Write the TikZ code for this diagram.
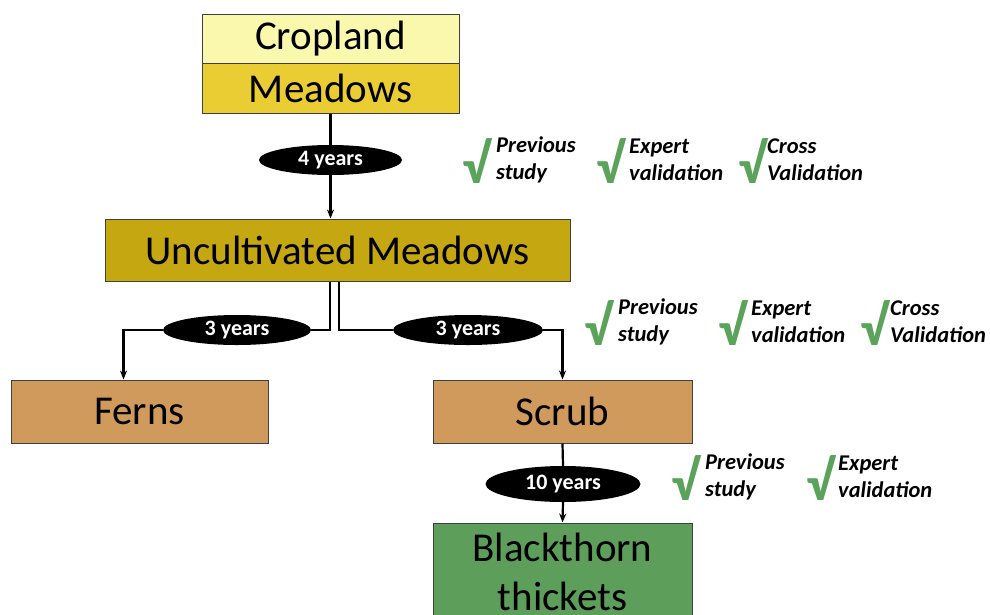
\documentclass[tikz,border=0pt]{standalone}
\usepackage{fontspec}
\setmainfont{Carlito}
\usepackage{tikz}
\usetikzlibrary{calc, arrows.meta, shapes.geometric}
\usepackage{xcolor}
\definecolor{croplandcol}{HTML}{F9F8AC}
\definecolor{meadowcol}{HTML}{EACD33}
\definecolor{uncultcol}{HTML}{C5A712}
\definecolor{shrubcol}{HTML}{CF9A5B}
\definecolor{thorncol}{HTML}{5C9E5A}
\definecolor{tickcol}{HTML}{5BA35A}
\tikzstyle{stage} = [rectangle, draw=black!75, line width=1pt, inner sep=0pt, font=\fontsize{41}{49}\selectfont, align=center]
\tikzstyle{lapse} = [ellipse, fill=black, inner sep=0pt, text=white, font=\bfseries\fontsize{22}{24}\selectfont]
\tikzstyle{tick} = [inner sep=0pt, text=tickcol, font=\bfseries\fontsize{56}{56}\selectfont]
\tikzstyle{proof} = [inner sep=0pt, anchor=west, align=left, font=\bfseries\itshape\fontsize{22.5}{27}\selectfont]
\tikzstyle{link} = [line width=2.2pt, black]

\begin{document}
\begin{tikzpicture}[x=1pt, y=-1pt]

        \useasboundingbox (0,0) rectangle (990,614);

        \node (cropland) [stage, fill=croplandcol, minimum width=257, minimum height=49] at (330.5,38.5) {Cropland};
        \node (meadows) [stage, fill=meadowcol, minimum width=257, minimum height=50] at (330.5,88) {Meadows};

        \node (uncultivated) [stage, fill=uncultcol, minimum width=465, minimum height=62] at (337.5,250) {Uncultivated Meadows};

        \node (ferns) [stage, fill=shrubcol, minimum width=257, minimum height=63] at (139.5,411.5) {Ferns};
        \node (scrub) [stage, fill=shrubcol, minimum width=259, minimum height=63] at (562.5,411.5) {Scrub};

        \node (blackthorn) [stage, fill=thorncol, minimum width=259, minimum height=98] at (562.5,572) {Blackthorn\\thickets};

        \node (fouryears) [lapse, minimum width=143, minimum height=30] at (330.5,160) {4 years};
        \node (threeleft) [lapse, minimum width=148, minimum height=30] at (237,330) {3 years};
        \node (threeright) [lapse, minimum width=150, minimum height=30] at (468,330) {3 years};
        \node (tenyears) [lapse, minimum width=155, minimum height=36] at (563,484) {10 years};

        \coordinate (fernsin) at ($(ferns.north)+(-16,0)$);

        \draw[link] (meadows.south) -- (fouryears.north);
        \draw[link, -{Stealth[length=9pt,width=7pt]}] (fouryears.south) -- (fouryears.south |- uncultivated.north);

        \draw[link] ($(uncultivated.south)+(-7.5,0)$) |- (threeleft.east);
        \draw[link, -{Stealth[length=9pt,width=7pt]}] (threeleft.west) -| (fernsin);
        \draw[link] ($(uncultivated.south)+(1.5,0)$) |- (threeright.west);
        \draw[link, -{Stealth[length=9pt,width=7pt]}] (threeright.east) -| (scrub.north);

        \draw[link] (scrub.south) -- (tenyears.north);
        \draw[link, -{Stealth[length=9pt,width=7pt]}] (tenyears.south) -- (blackthorn.north);

        % first transition
        \node (tickprevA) [tick] at (476,161) {√};
        \node (prevA) [proof] at (496,160) {Previous\\study};
        \node (tickexpA) [tick] at (610,161) {√};
        \node (expA) [proof] at (629,160) {Expert\\validation};
        \node (tickcrossA) [tick] at (752,161) {√};
        \node (crossA) [proof] at (767,160) {Cross\\Validation};

        % second transition
        \node (tickprevB) [tick] at (598,323) {√};
        \node (prevB) [proof] at (618,322) {Previous\\study};
        \node (tickexpB) [tick] at (732,323) {√};
        \node (expB) [proof] at (751,322) {Expert\\validation};
        \node (tickcrossB) [tick] at (874,323) {√};
        \node (crossB) [proof] at (890,322) {Cross\\Validation};

        % third transition
        \node (tickprevC) [tick] at (685,478) {√};
        \node (prevC) [proof] at (705,477) {Previous\\study};
        \node (tickexpC) [tick] at (820,478) {√};
        \node (expC) [proof] at (838,477) {Expert\\validation};

    \end{tikzpicture}
\end{document}
